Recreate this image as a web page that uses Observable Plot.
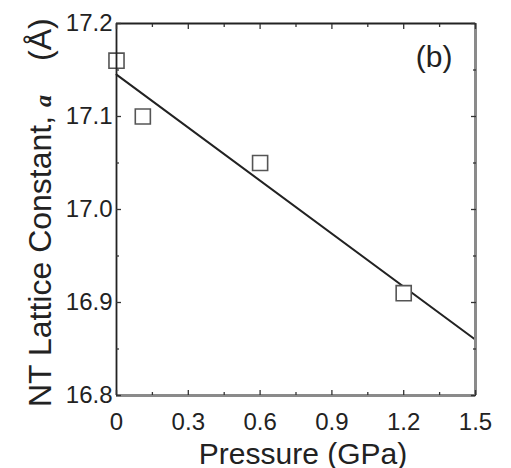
<!DOCTYPE html>
<html><head><meta charset="utf-8">
<script src="https://cdn.jsdelivr.net/npm/d3@7"></script>
<script src="https://cdn.jsdelivr.net/npm/@observablehq/plot@0.6"></script>
<style>body{margin:0;background:#fff}</style>
</head><body><div id="chart"></div>
<script>
// measured points
const pressure = [0, 0.11, 0.6, 1.2];
const latticeA = [17.16, 17.10, 17.05, 16.91];
// linear fit line endpoints
const fitPressure = [0, 1.5];
const fitA = [17.145, 16.86];
// axes
const xDomain = [0, 1.5];
const yDomain = [16.8, 17.2];
const xTicks = [0, 0.3, 0.6, 0.9, 1.2, 1.5];
const xMinorTicks = [0.15, 0.45, 0.75, 1.05, 1.35];
const yTicks = [16.8, 16.9, 17.0, 17.1, 17.2];
const yMinorTicks = [16.85, 16.95, 17.05, 17.15];
const xLabel = "Pressure (GPa)";
const yLabelMain = "NT Lattice Constant, ";
const yLabelVar = "a";
const yLabelUnit = "(Å)";
const panelLabel = "(b)";

const points = pressure.map((p, i) => ({p, a: latticeA[i]}));
const fit = fitPressure.map((p, i) => ({p, a: fitA[i]}));
const font = "'Liberation Sans', Arial, Helvetica, sans-serif";
const tickColor = "#333";
const blank = () => "";

const inward = (axis, ticks, anchor, size) =>
  axis(ticks, {anchor, tickSize: -size, tickFormat: blank, stroke: tickColor, strokeWidth: 1.3, label: null});

const svg = Plot.plot({
  width: 511, height: 468,
  marginLeft: 116, marginRight: 36, marginTop: 23, marginBottom: 73,
  style: {fontFamily: font, background: "#fff", color: "#222"},
  x: {domain: xDomain, label: null},
  y: {domain: yDomain, label: null},
  marks: [
    Plot.line(fit, {x: "p", y: "a", stroke: "#222", strokeWidth: 2}),
    Plot.dot(points, {x: "p", y: "a", symbol: "square", r: 8.5, fill: "white", stroke: "#555", strokeWidth: 1.6}),
    // frame
    Plot.ruleX([xDomain[1]], {stroke: "#8a8a8a", strokeWidth: 3}),
    Plot.ruleY([yDomain[0]], {stroke: "#8a8a8a", strokeWidth: 3}),
    Plot.ruleX([xDomain[0]], {stroke: "#222", strokeWidth: 1.8}),
    Plot.ruleY([yDomain[1]], {stroke: "#222", strokeWidth: 1.8}),
    // inward ticks
    inward(Plot.axisX, xTicks, "bottom", 5),
    inward(Plot.axisX, xMinorTicks, "bottom", 3),
    inward(Plot.axisX, xTicks, "top", 5),
    inward(Plot.axisX, xMinorTicks, "top", 3),
    inward(Plot.axisY, yTicks, "left", 5),
    inward(Plot.axisY, yMinorTicks, "left", 3),
    inward(Plot.axisY, yTicks, "right", 5),
    inward(Plot.axisY, yMinorTicks, "right", 3),
    // tick labels
    Plot.axisX(xTicks, {anchor: "bottom", tickSize: 0, tickPadding: 17, fontSize: 24, fill: "#222",
      tickFormat: d => d === 0 ? "0" : d3.format(".1f")(d), label: null}),
    Plot.axisY(yTicks, {anchor: "left", tickSize: 0, tickPadding: 4, fontSize: 24, fill: "#222",
      tickFormat: d3.format(".1f"), label: null}),
    Plot.text([xLabel], {frameAnchor: "bottom", dx: 7, dy: 68, lineAnchor: "bottom", fontSize: 30, fill: "#222"}),
    Plot.text([panelLabel], {frameAnchor: "top-right", dx: -23, dy: 22, textAnchor: "end", lineAnchor: "top", fontSize: 30, fill: "#222"})
  ]
});

// rotated y-axis title with italic bold variable
const t = d3.select(svg).append("text")
  .attr("transform", "translate(51,407) rotate(-90)")
  .attr("font-family", font)
  .attr("font-size", 32)
  .attr("fill", "#222")
  .attr("text-anchor", "start");
t.append("tspan").text(yLabelMain.trimEnd());
t.append("tspan").attr("dx", 9).attr("font-family", "'Liberation Serif', 'Times New Roman', serif")
  .attr("font-style", "italic").attr("font-weight", "bold").attr("font-size", 24).text(yLabelVar);
t.append("tspan").attr("dx", 34).text(yLabelUnit);

document.getElementById("chart").appendChild(svg);
</script>
</body></html>
